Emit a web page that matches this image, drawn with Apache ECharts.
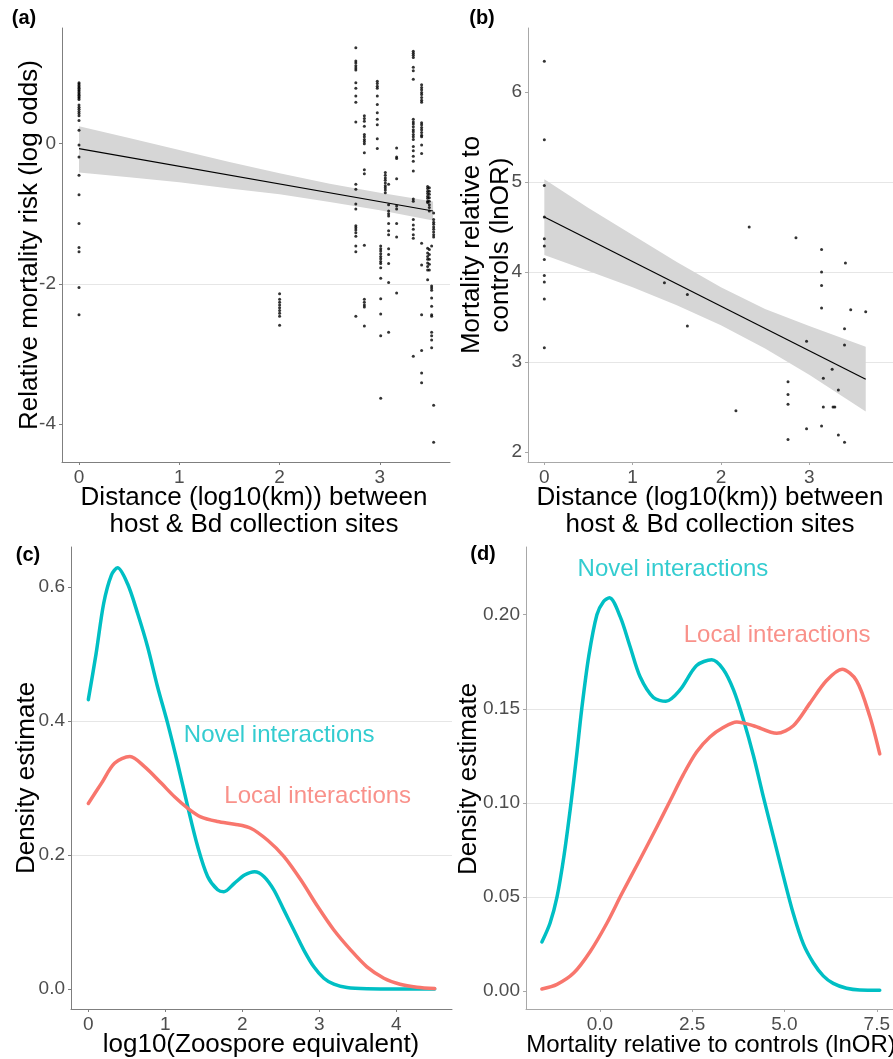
<!DOCTYPE html>
<html><head><meta charset="utf-8">
<script src="https://cdn.jsdelivr.net/npm/echarts@6/dist/echarts.min.js"></script>
<style>html,body{margin:0;padding:0;background:#fff}#c{width:893px;height:1059px}</style>
</head><body><div id="c"></div><script>
// ---------- Panel (a) ----------
const aColX = [0, 2.0, 2.76, 2.845, 2.974, 3.008, 3.054, 3.087, 3.167, 3.333, 3.416, 3.476, 3.493, 3.516, 3.536];
const aColY = [
  [0.87,0.85,0.83,0.81,0.79,0.77,0.75,0.73,0.71,0.69,0.67,0.65,0.63,0.55,0.52,0.49,0.46,0.43,0.40,0.33,0.19,-0.02,-0.19,-0.45,-0.73,-1.14,-1.48,-1.54,-2.05,-2.44],
  [-2.14,-2.22,-2.26,-2.30,-2.34,-2.38,-2.42,-2.46,-2.59],
  [1.37,1.18,1.15,1.11,1.08,1.05,0.87,0.79,0.68,0.59,0.31,-0.58,-0.65,-0.86,-0.93,-1.17,-1.20,-1.23,-1.27,-1.32,-1.46,-1.54,-2.46],
  [0.40,0.36,0.32,0.25,0.13,0.10,0.06,0.03,0.00,-0.13,-0.37,-0.43,-1.45,-2.22,-2.26,-2.30,-2.33,-2.60],
  [0.89,0.86,0.82,0.79,0.68,0.56,0.44,0.35,0.27,0.07,-0.07],
  [-1.46,-1.50,-1.53,-1.57,-1.61,-1.64,-1.68,-1.71,-1.77,-1.92,-2.21,-2.43,-2.74,-3.63],
  [-0.41,-0.45,-0.49,-0.52,-0.56,-0.60,-0.63,-0.66,-0.70],
  [-0.58,-0.87,-0.96,-1.00,-1.03,-1.14,-1.24,-1.30,-1.50,-1.58,-1.71,-1.98,-2.69],
  [-0.06,-0.19,-0.21,-0.50,-0.89,-0.93,-1.14,-1.33,-2.13],
  [1.32,1.29,1.26,1.23,1.09,1.04,0.92,0.35,0.31,0.28,0.24,0.20,0.17,0.13,0.10,0.06,-0.04,-0.10,-0.18,-0.25,-0.39,-0.79,-0.82,-1.08,-1.16,-1.22,-1.30,-1.35,-3.03],
  [0.84,0.80,0.77,0.73,0.70,0.66,0.62,0.59,0.30,0.27,0.23,0.20,0.16,0.12,0.10,-0.02,-0.14,-1.42,-1.73,-2.44,-2.95,-3.27,-3.41],
  [-0.61,-0.64,-0.68,-0.71,-0.75,-0.78,-0.82,-0.84,-1.49,-1.56,-1.61,-1.65,-1.70,-1.75,-1.80,-1.94],
  [-0.63,-0.68,-0.72,-0.77,-0.82,-0.87,-0.91,-0.96,-1.51,-1.58,-1.65,-1.72,-1.80],
  [-1.46,-2.03,-2.06,-2.09,-2.20,-2.32,-2.44,-2.46,-2.69,-2.74,-2.80,-2.91],
  [-0.99,-1.08,-1.12,-1.15,-1.19,-1.22,-1.26,-1.30,-1.33,-3.73,-4.26]
];
const aFitX = [0, 3.53];
const aFitY = [-0.07, -0.96];
const aBandX = [0, 0.5, 1, 1.5, 2, 2.5, 3, 3.53];
const aBandUpper = [0.25, 0.08, -0.09, -0.26, -0.42, -0.57, -0.70, -0.825];
const aBandLower = [-0.41, -0.48, -0.55, -0.64, -0.72, -0.83, -0.95, -1.095];
const aTicksX = [0, 1, 2, 3];
const aTicksY = [-4, -2, 0];

// ---------- Panel (b) ----------
const bX = [0,0,0,0,0,0,0,0,0,0,0, 1.36,1.62,1.62,2.17,2.32,2.76,2.76,2.76,2.76,2.85,2.97,2.97,3.14,3.14,3.14,3.14,3.14,3.16,3.16,3.26,3.27,3.29,3.33,3.33,3.40,3.40,3.40,3.41,3.47,3.64];
const bY = [6.34,5.47,4.96,4.61,4.37,4.29,4.14,3.96,3.89,3.70,3.16, 3.88,3.75,3.40,2.46,4.50,2.78,2.64,2.53,2.14,4.38,3.23,2.26,4.25,4.00,3.85,3.60,2.29,2.82,2.50,2.92,2.50,2.50,2.69,2.19,2.11,3.19,3.37,4.10,3.58,3.56];
const bFitX = [0, 3.64];
const bFitY = [4.61, 2.81];
const bBandX = [0, 0.5, 1, 1.5, 2, 2.5, 3, 3.64];
const bBandUpper = [5.03, 4.71, 4.41, 4.11, 3.83, 3.59, 3.40, 3.17];
const bBandLower = [4.19, 4.01, 3.83, 3.63, 3.41, 3.15, 2.86, 2.45];
const bTicksX = [0, 1, 2, 3];
const bTicksY = [2, 3, 4, 5, 6];

// ---------- Panel (c) ----------
const cNovelX = [0, 0.10, 0.20, 0.30, 0.38, 0.51, 0.64, 0.77, 0.90, 1.03, 1.16, 1.29, 1.42, 1.55, 1.68, 1.76, 1.90, 2.03, 2.16, 2.28, 2.41, 2.54, 2.67, 2.80, 2.93, 3.06, 3.19, 3.36, 3.62, 4.05, 4.50];
const cNovelY = [0.432, 0.500, 0.576, 0.618, 0.629, 0.605, 0.561, 0.511, 0.451, 0.397, 0.337, 0.273, 0.213, 0.168, 0.148, 0.145, 0.158, 0.170, 0.175, 0.168, 0.148, 0.118, 0.088, 0.058, 0.033, 0.016, 0.007, 0.002, 0.0003, 0, 0];
const cLocalX = [0, 0.17, 0.34, 0.54, 0.73, 0.95, 1.12, 1.29, 1.46, 1.68, 1.90, 2.11, 2.33, 2.54, 2.76, 2.98, 3.19, 3.41, 3.62, 3.84, 4.05, 4.27, 4.50];
const cLocalY = [0.277, 0.307, 0.337, 0.347, 0.332, 0.307, 0.287, 0.270, 0.257, 0.250, 0.246, 0.240, 0.222, 0.198, 0.163, 0.123, 0.088, 0.058, 0.033, 0.016, 0.007, 0.0025, 0.0005];
const cTicksX = [0, 1, 2, 3, 4];
const cTicksY = [0, 0.2, 0.4, 0.6];
const cLabelText = ['Novel interactions', 'Local interactions'];
const cLabelX = [2.48, 2.98];
const cLabelY = [0.379, 0.288];

// ---------- Panel (d) ----------
const dNovelX = [-1.57, -1.35, -1.16, -0.97, -0.78, -0.63, -0.49, -0.30, -0.08, 0.10, 0.26, 0.55, 0.82, 1.09, 1.45, 1.79, 2.17, 2.62, 3.03, 3.34, 3.62, 3.89, 4.16, 4.43, 4.70, 4.97, 5.24, 5.51, 5.78, 6.05, 6.32, 6.68, 7.04, 7.58];
const dNovelY = [0.026, 0.036, 0.050, 0.072, 0.100, 0.125, 0.150, 0.178, 0.200, 0.207, 0.209, 0.199, 0.183, 0.167, 0.156, 0.154, 0.160, 0.173, 0.176, 0.171, 0.160, 0.144, 0.125, 0.103, 0.082, 0.061, 0.041, 0.025, 0.015, 0.008, 0.004, 0.0014, 0.0005, 0.0004];
const dLocalX = [-1.57, -1.16, -0.71, -0.26, 0.19, 0.59, 1.09, 1.54, 1.90, 2.26, 2.62, 2.98, 3.34, 3.71, 4.16, 4.79, 5.24, 5.69, 6.14, 6.56, 6.95, 7.31, 7.58];
const dLocalY = [0.001, 0.0035, 0.0095, 0.021, 0.036, 0.0515, 0.070, 0.087, 0.101, 0.115, 0.127, 0.135, 0.140, 0.143, 0.141, 0.137, 0.141, 0.153, 0.165, 0.171, 0.165, 0.146, 0.126];
const dTicksX = [0, 2.5, 5, 7.5];
const dTicksY = [0, 0.05, 0.10, 0.15, 0.20];
const dLabelText = ['Novel interactions', 'Local interactions'];
const dLabelX = [1.98, 4.80];
const dLabelY = [0.224, 0.189];

// ---------- styling ----------
const FONT = '"Liberation Sans", Arial, sans-serif';
const TEAL = '#00BFC4', SALMON = '#F8766D';
const GRIDC = '#E6E6E6';

const zip = (xs, ys) => xs.map((x, i) => [x, ys[i]]);
const aPoints = [];
aColX.forEach((x, i) => aColY[i].forEach(y => aPoints.push([x, y])));

function axisCommon(gi, min, max, ticks, dec, interval, axisColor) {
  return {
    type: 'value', gridIndex: gi, min, max, minInterval: interval, maxInterval: interval,
    axisLine: { show: true, onZero: false, lineStyle: { color: axisColor, width: 1 } },
    axisTick: { show: true, length: 3, lineStyle: { color: axisColor }, customValues: ticks },
    axisLabel: { show: true, customValues: ticks, margin: 6, color: '#4D4D4D', fontSize: 19, fontFamily: FONT,
      formatter: v => ticks.some(t => Math.abs(t - v) < 1e-9) ? Number(v).toFixed(dec) : '' }
  };
}
function xAxis(gi, min, max, ticks, dec, interval, axisColor) {
  const a = axisCommon(gi, min, max, ticks, dec, interval, axisColor);
  a.position = 'bottom';
  a.splitLine = { show: false };
  return a;
}
function yAxis(gi, min, max, ticks, dec, interval, axisColor) {
  const a = axisCommon(gi, min, max, ticks, dec, interval, axisColor);
  a.position = 'left';
  a.splitLine = { show: true, showMinLine: false, showMaxLine: false, lineStyle: { color: GRIDC, width: 1 } };
  return a;
}

function band(xi, bx, up, lo) {
  return {
    type: 'custom', xAxisIndex: xi, yAxisIndex: xi, data: [[bx[0], up[0]]], silent: true, z: 1,
    renderItem: (params, api) => {
      const pts = [];
      for (let i = 0; i < bx.length; i++) pts.push(api.coord([bx[i], up[i]]));
      for (let i = bx.length - 1; i >= 0; i--) pts.push(api.coord([bx[i], lo[i]]));
      return { type: 'polygon', shape: { points: pts }, style: { fill: '#D6D6D6' } };
    }
  };
}
function fitLine(xi, xs, ys) {
  return { type: 'line', xAxisIndex: xi, yAxisIndex: xi, data: zip(xs, ys), showSymbol: false, silent: true, z: 4,
    lineStyle: { color: '#000', width: 1.2 } };
}
function dens(xi, xs, ys, color) {
  return { type: 'line', xAxisIndex: xi, yAxisIndex: xi, data: zip(xs, ys), showSymbol: false, silent: true, z: 3,
    smooth: 0.3, lineStyle: { color, width: 3.5, cap: 'round', join: 'round' } };
}
function annot(xi, texts, xs, ys) {
  return { type: 'scatter', xAxisIndex: xi, yAxisIndex: xi, silent: true, z: 5, symbolSize: 1,
    itemStyle: { color: 'rgba(0,0,0,0)' },
    data: texts.map((t, i) => ({ value: [xs[i], ys[i]], name: t,
      label: { show: true, position: 'inside', formatter: t, fontSize: 24, fontFamily: FONT, color: i === 0 ? TEAL : SALMON } })) };
}

function txt(text, x, y, size, opts = {}) {
  return { type: 'text', x, y, rotation: opts.rot || 0, silent: true,
    style: { text, fontSize: size, fontFamily: FONT, fontWeight: opts.bold ? 'bold' : 'normal', fill: '#000',
      textAlign: 'center', textVerticalAlign: 'middle', align: 'center', verticalAlign: 'middle' } };
}
const R = Math.PI / 2;

const option = {
  animation: false,
  backgroundColor: '#fff',
  grid: [
    { left: 62, top: 28, width: 388, height: 434 },
    { left: 528, top: 28, width: 365, height: 434 },
    { left: 71, top: 547, width: 381, height: 462 },
    { left: 526, top: 547, width: 367, height: 462 }
  ],
  xAxis: [
    xAxis(0, -0.1695, 3.699, aTicksX, 0, 1, '#7F7F7F'),
    xAxis(1, -0.185, 3.949, bTicksX, 0, 1, '#A8A8A8'),
    xAxis(2, -0.225, 4.725, cTicksX, 0, 1, '#7F7F7F'),
    xAxis(3, -2.0, 7.93, dTicksX, 1, 2.5, '#A8A8A8')
  ],
  yAxis: [
    yAxis(0, -4.54, 1.65, aTicksY, 0, 2, '#7F7F7F'),
    yAxis(1, 1.89, 6.71, bTicksY, 0, 1, '#A8A8A8'),
    yAxis(2, -0.03, 0.66, cTicksY, 1, 0.2, '#7F7F7F'),
    yAxis(3, -0.0096, 0.236, dTicksY, 2, 0.05, '#A8A8A8')
  ],
  series: [
    band(0, aBandX, aBandUpper, aBandLower),
    { type: 'scatter', xAxisIndex: 0, yAxisIndex: 0, data: aPoints, symbolSize: 3, itemStyle: { color: '#000' }, silent: true, z: 2 },
    fitLine(0, aFitX, aFitY),
    band(1, bBandX, bBandUpper, bBandLower),
    { type: 'scatter', xAxisIndex: 1, yAxisIndex: 1, data: zip(bX, bY), symbolSize: 3, itemStyle: { color: '#000' }, silent: true, z: 2 },
    fitLine(1, bFitX, bFitY),
    dens(2, cNovelX, cNovelY, TEAL),
    dens(2, cLocalX, cLocalY, SALMON),
    annot(2, cLabelText, cLabelX, cLabelY),
    dens(3, dNovelX, dNovelY, TEAL),
    dens(3, dLocalX, dLocalY, SALMON),
    annot(3, dLabelText, dLabelX, dLabelY)
  ],
  graphic: [
    txt('(a)', 24, 18, 20, { bold: true }),
    txt('(b)', 482, 18, 20, { bold: true }),
    txt('(c)', 28, 555, 20, { bold: true }),
    txt('(d)', 483, 554, 20, { bold: true }),
    txt('Relative mortality risk (log odds)', 30, 245, 26, { rot: R }),
    txt('Mortality relative to', 472, 245, 26, { rot: R }),
    txt('controls (lnOR)', 501, 245, 26, { rot: R }),
    txt('Distance (log10(km)) between', 254, 498, 26),
    txt('host & Bd collection sites', 254, 525, 26),
    txt('Distance (log10(km)) between', 710, 498, 26),
    txt('host & Bd collection sites', 710, 525, 26),
    txt('Density estimate', 27, 778, 26, { rot: R }),
    txt('Density estimate', 469, 779, 26, { rot: R }),
    txt('log10(Zoospore equivalent)', 261, 1045, 26),
    txt('Mortality relative to controls (lnOR)', 711, 1045, 24)
  ]
};

const chart = echarts.init(document.getElementById('c'), null, { renderer: 'canvas' });
chart.setOption(option);
</script></body></html>
